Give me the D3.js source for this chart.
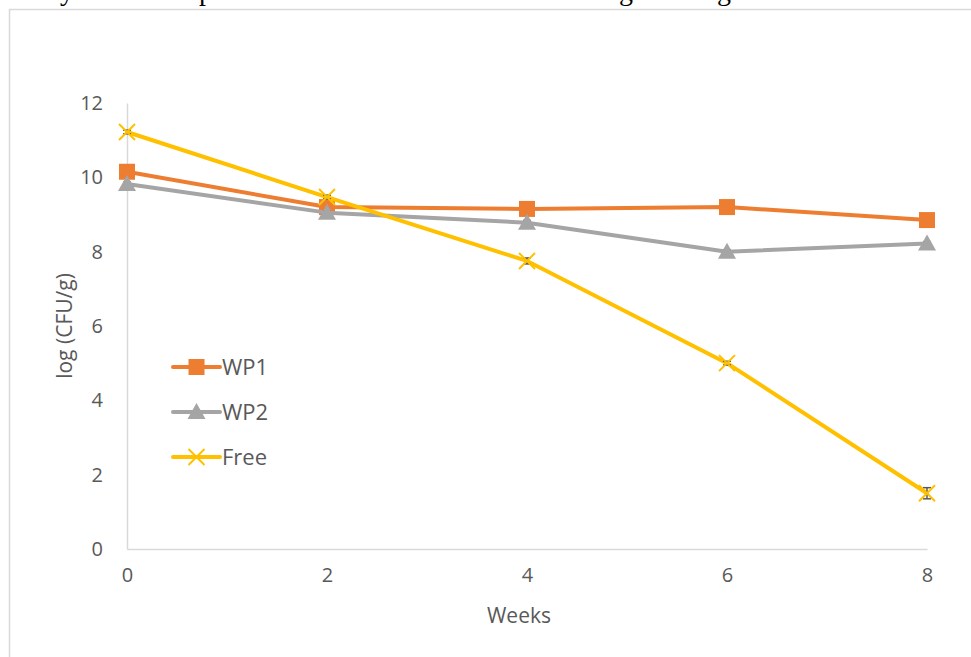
<!DOCTYPE html>
<html>
<head>
<meta charset="utf-8">
<script src="https://cdn.jsdelivr.net/npm/d3@7"></script>
<style>
  html, body { margin: 0; padding: 0; background: #fff; }
  svg { display: block; }
</style>
</head>
<body>
<svg id="chart" width="971" height="657"></svg>
<script>
// Survival of bacteria over storage time (log CFU/g)
const weeks = [0, 2, 4, 6, 8];
const wp1 = [10.15, 9.2, 9.15, 9.2, 8.85];
const wp2 = [9.82, 9.05, 8.78, 8.0, 8.22];
const free = [11.22, 9.47, 7.75, 5.0, 1.5];
const wp1Err = [0.05, 0.05, 0.05, 0.05, 0.05];
const wp2Err = [0.05, 0.05, 0.06, 0.05, 0.05];
const freeErr = [0.05, 0.05, 0.08, 0.05, 0.15];
const xTicks = [0, 2, 4, 6, 8];
const yTicks = [0, 2, 4, 6, 8, 10, 12];
const seriesNames = ["WP1", "WP2", "Free"];
const seriesColors = ["#ed7d31", "#a5a5a5", "#ffc000"];
const seriesShapes = ["square", "triangle", "cross"];

const series = seriesNames.map((name, i) => ({
  name,
  color: seriesColors[i],
  shape: seriesShapes[i],
  values: [wp1, wp2, free][i],
  errs: [wp1Err, wp2Err, freeErr][i]
}));

const svg = d3.select("#chart");
const font = "'Open Sans', 'Noto Sans', sans-serif";

// Caption line of the surrounding page, mostly above the visible area
const caption = svg.append("g")
  .attr("font-family", "'Liberation Serif', 'DejaVu Serif', serif")
  .attr("font-size", 28)
  .attr("fill", "#000");
[["y", 60], ["p", 199], ["g", 619], ["g", 717]].forEach(([ch, x]) => {
  caption.append("text").attr("x", x).attr("y", 0).text(ch);
});

// Chart frame
svg.append("rect")
  .attr("x", 9.5).attr("y", 9.5)
  .attr("width", 1000).attr("height", 700)
  .attr("fill", "none")
  .attr("stroke", "#d9d9d9")
  .attr("stroke-width", 1.5);

const x = d3.scaleLinear().domain([0, 8]).range([127, 927]);
const y = d3.scaleLinear().domain([0, 12]).range([549, 103]);

// Axes
const xAxis = svg.append("g")
  .attr("transform", `translate(0,${y(0)})`)
  .call(d3.axisBottom(x).tickValues(xTicks).tickSize(0).tickPadding(19).tickFormat(d3.format("d")));
const yAxis = svg.append("g")
  .attr("transform", `translate(${x(0)},0)`)
  .call(d3.axisLeft(y).tickValues(yTicks).tickSize(0).tickPadding(24).tickFormat(d3.format("d")));
[xAxis, yAxis].forEach(g => {
  g.select(".domain").attr("stroke", "#d9d9d9").attr("stroke-width", 1.5);
  g.selectAll("text")
    .attr("font-family", font)
    .attr("font-size", 20)
    .attr("fill", "#595959");
});
xAxis.selectAll("text").attr("dy", "0.71em");

// Axis titles
svg.append("text")
  .attr("x", x(4) - 8)
  .attr("y", 623)
  .attr("text-anchor", "middle")
  .attr("font-family", font)
  .attr("font-size", 21)
  .attr("fill", "#595959")
  .text("Weeks");
svg.append("text")
  .attr("transform", `translate(72,${y(6)}) rotate(-90)`)
  .attr("text-anchor", "middle")
  .attr("font-family", font)
  .attr("font-size", 21)
  .attr("fill", "#595959")
  .text("log (CFU/g)");

const line = d3.line().x((d, i) => x(weeks[i])).y(d => y(d));

function drawMarker(g, shape, color, cx, cy) {
  if (shape === "square") {
    g.append("rect").attr("x", cx - 8).attr("y", cy - 8)
      .attr("width", 16).attr("height", 16).attr("fill", color);
  } else if (shape === "triangle") {
    g.append("path")
      .attr("d", `M${cx},${cy - 9} L${cx + 9},${cy + 7} L${cx - 9},${cy + 7} Z`)
      .attr("fill", color);
  } else {
    g.append("path")
      .attr("d", `M${cx - 8},${cy - 8} L${cx + 8},${cy + 8} M${cx - 8},${cy + 8} L${cx + 8},${cy - 8}`)
      .attr("stroke", color).attr("stroke-width", 2).attr("fill", "none");
  }
}

series.forEach(s => {
  const g = svg.append("g");
  g.append("path")
    .datum(s.values)
    .attr("d", line)
    .attr("fill", "none")
    .attr("stroke", s.color)
    .attr("stroke-width", 4)
    .attr("stroke-linejoin", "round")
    .attr("stroke-linecap", "round");
  // Error bars
  s.values.forEach((v, i) => {
    const cx = x(weeks[i]);
    const y1 = y(v + s.errs[i]), y2 = y(v - s.errs[i]);
    const eb = g.append("g").attr("stroke", "#595959").attr("stroke-width", 1.5);
    eb.append("line").attr("x1", cx).attr("x2", cx).attr("y1", y1).attr("y2", y2);
    eb.append("line").attr("x1", cx - 4).attr("x2", cx + 4).attr("y1", y1).attr("y2", y1);
    eb.append("line").attr("x1", cx - 4).attr("x2", cx + 4).attr("y1", y2).attr("y2", y2);
  });
  s.values.forEach((v, i) => drawMarker(g, s.shape, s.color, x(weeks[i]), y(v)));
});

// Legend
const legendRows = [367, 412, 457];
series.forEach((s, i) => {
  const g = svg.append("g");
  const ly = legendRows[i];
  g.append("line")
    .attr("x1", 173).attr("x2", 220).attr("y1", ly).attr("y2", ly)
    .attr("stroke", s.color).attr("stroke-width", 4).attr("stroke-linecap", "round");
  drawMarker(g, s.shape, s.color, 196.5, ly);
  g.append("text")
    .attr("x", 222).attr("y", ly)
    .attr("dy", "0.35em")
    .attr("font-family", font)
    .attr("font-size", 22)
    .attr("fill", "#595959")
    .text(s.name);
});
</script>
</body>
</html>
